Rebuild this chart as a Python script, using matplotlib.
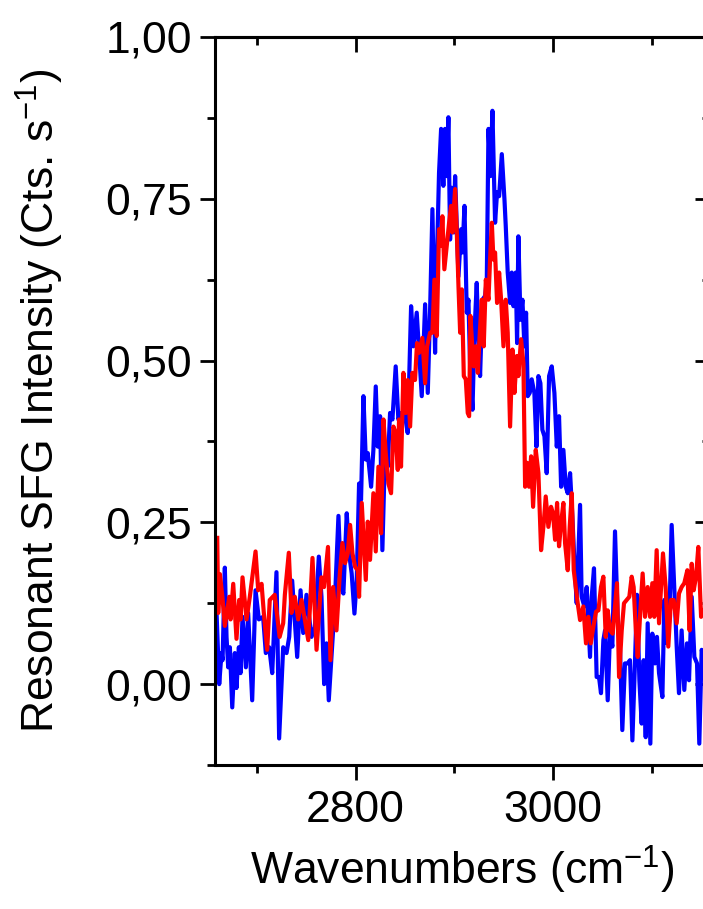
import matplotlib
matplotlib.use('Agg')
import matplotlib.pyplot as plt
from matplotlib.ticker import MultipleLocator, FuncFormatter

plt.rcParams['font.family'] = ['Liberation Sans', 'DejaVu Sans']
plt.rcParams['mathtext.fontset'] = 'custom'
plt.rcParams['mathtext.rm'] = 'Liberation Sans'
plt.rcParams['mathtext.default'] = 'regular'

# spectrum 1 (blue)
wn_blue = [2659.1, 2661.8, 2664.1, 2665.2, 2667.5, 2669.2, 2670.9, 2672.6, 2675.0, 2677.6,
           2679.3, 2681.7, 2683.4, 2685.4, 2688.8, 2691.1, 2695.2, 2698.6, 2702.0, 2706.3,
           2709.0, 2712.4, 2715.5, 2719.8, 2722.5, 2726.6, 2730.0, 2732.7, 2735.7, 2740.8,
           2744.2, 2746.9, 2750.2, 2755.3, 2758.7, 2762.7, 2765.4, 2768.1, 2770.5, 2772.8,
           2775.5, 2778.9, 2782.6, 2785.3, 2787.6, 2791.0, 2793.4, 2796.0, 2798.8, 2801.1,
           2803.5, 2805.5, 2807.9, 2810.3, 2812.3, 2815.7, 2818.0, 2820.4, 2822.4, 2824.8,
           2827.1, 2829.8, 2832.5, 2834.9, 2837.3, 2840.6, 2843.3, 2846.0, 2850.1, 2852.8,
           2856.2, 2858.5, 2861.9, 2864.3, 2867.0, 2870.4, 2873.1, 2875.4, 2877.8, 2880.5,
           2882.2, 2884.5, 2886.6, 2888.9, 2890.6, 2892.3, 2894.0, 2895.7, 2897.4, 2899.4,
           2900.8, 2902.5, 2904.2, 2906.9, 2908.2, 2910.3, 2912.6, 2914.3, 2916.0, 2918.4,
           2920.4, 2922.7, 2924.4, 2926.1, 2928.5, 2931.2, 2932.9, 2934.6, 2936.6, 2938.6,
           2941.3, 2943.3, 2945.4, 2948.1, 2950.8, 2952.1, 2954.1, 2956.5, 2958.2, 2959.9,
           2962.2, 2963.6, 2964.9, 2967.0, 2969.0, 2971.0, 2972.7, 2974.4, 2976.4, 2978.4,
           2981.1, 2983.2, 2985.2, 2987.2, 2989.2, 2991.3, 2993.6, 2996.0, 2998.7, 3001.4,
           3003.8, 3006.1, 3008.2, 3010.5, 3012.9, 3014.9, 3017.3, 3019.6, 3021.7, 3024.0,
           3027.4, 3029.0, 3031.8, 3034.1, 3037.5, 3039.2, 3041.5, 3044.2, 3046.6, 3048.6,
           3051.0, 3052.7, 3055.4, 3057.8, 3060.1, 3062.8, 3065.5, 3067.9, 3070.2, 3072.9,
           3075.6, 3078.0, 3080.4, 3083.1, 3085.1, 3087.5, 3089.8, 3091.8, 3093.9, 3095.9,
           3098.6, 3100.6, 3103.3, 3105.3, 3107.4, 3110.8, 3112.8, 3115.5, 3117.8, 3120.2,
           3122.9, 3125.3, 3127.6, 3130.3, 3133.0, 3135.7, 3137.8, 3140.5, 3143.2, 3145.9,
           3148.2, 3150.6, 3153.0]
int_blue = [0.110, 0.000, 0.048, 0.037, 0.180, 0.073, 0.026, 0.057, -0.036, 0.048,
            -0.006, 0.057, 0.017, 0.104, 0.026, 0.110, -0.025, 0.145, 0.100, 0.104,
            0.048, 0.057, 0.017, 0.173, -0.084, 0.057, 0.048, 0.073, 0.160, 0.042,
            0.145, 0.079, 0.138, 0.073, 0.088, 0.197, 0.135, 0.000, 0.063, -0.025,
            0.042, 0.125, 0.260, 0.151, 0.140, 0.264, 0.202, 0.171, 0.109, 0.161,
            0.310, 0.285, 0.445, 0.347, 0.357, 0.305, 0.362, 0.460, 0.367, 0.414,
            0.207, 0.362, 0.336, 0.419, 0.409, 0.491, 0.409, 0.419, 0.414, 0.388,
            0.584, 0.522, 0.574, 0.512, 0.445, 0.587, 0.450, 0.574, 0.734, 0.512,
            0.646, 0.790, 0.858, 0.770, 0.858, 0.785, 0.876, 0.687, 0.767, 0.698,
            0.785, 0.708, 0.630, 0.703, 0.667, 0.739, 0.574, 0.594, 0.491, 0.424,
            0.543, 0.620, 0.533, 0.476, 0.594, 0.600, 0.625, 0.858, 0.785, 0.886,
            0.713, 0.760, 0.754, 0.819, 0.749, 0.708, 0.636, 0.589, 0.636, 0.584,
            0.636, 0.527, 0.692, 0.563, 0.594, 0.522, 0.574, 0.445, 0.450, 0.471,
            0.450, 0.367, 0.476, 0.465, 0.393, 0.383, 0.326, 0.476, 0.491, 0.450,
            0.367, 0.414, 0.305, 0.362, 0.305, 0.295, 0.326, 0.259, 0.187, 0.125,
            0.277, 0.135, 0.120, 0.150, 0.042, 0.135, 0.179, 0.011, 0.011, -0.014,
            0.068, 0.083, -0.025, 0.083, 0.058, 0.236, 0.104, 0.053, -0.071, 0.032,
            0.032, 0.037, -0.087, 0.037, 0.138, 0.006, -0.061, 0.037, -0.082, 0.094,
            -0.092, 0.078, 0.032, 0.073, 0.017, -0.020, 0.130, 0.063, 0.099, 0.246,
            0.145, 0.058, -0.014, 0.083, -0.009, 0.063, 0.006, 0.135, 0.042, 0.032,
            -0.092, 0.053, 0.040]

# spectrum 2 (red)
wn_red = [2659.8, 2660.8, 2662.5, 2665.0, 2667.5, 2672.0, 2673.3, 2676.0, 2679.3, 2682.0,
          2683.4, 2685.4, 2689.5, 2692.8, 2698.6, 2701.3, 2704.7, 2707.0, 2710.4, 2713.0,
          2718.0, 2723.0, 2726.6, 2728.3, 2732.3, 2735.0, 2738.4, 2741.8, 2745.2, 2752.0,
          2756.3, 2760.4, 2765.4, 2768.0, 2772.0, 2774.5, 2777.2, 2780.6, 2784.0, 2786.6,
          2789.3, 2792.0, 2794.4, 2796.8, 2799.5, 2802.2, 2803.5, 2806.2, 2810.3, 2812.3,
          2814.6, 2818.0, 2820.4, 2823.1, 2825.8, 2828.2, 2830.5, 2833.2, 2835.9, 2838.3,
          2840.6, 2842.7, 2844.0, 2846.0, 2848.4, 2850.8, 2852.8, 2855.2, 2857.5, 2860.2,
          2862.2, 2864.3, 2867.6, 2870.4, 2872.4, 2875.4, 2877.8, 2879.8, 2882.2, 2884.5,
          2886.6, 2887.9, 2889.9, 2892.3, 2894.7, 2896.7, 2898.0, 2900.8, 2902.5, 2904.2,
          2905.9, 2907.6, 2909.6, 2911.6, 2913.6, 2915.0, 2916.3, 2918.4, 2919.7, 2921.7,
          2923.8, 2925.8, 2927.8, 2929.8, 2931.9, 2934.6, 2936.2, 2938.0, 2939.6, 2941.3,
          2943.3, 2945.4, 2947.4, 2949.8, 2952.1, 2954.1, 2956.5, 2958.9, 2960.9, 2963.3,
          2964.9, 2967.6, 2970.0, 2971.7, 2973.7, 2975.7, 2977.8, 2979.8, 2982.5, 2985.2,
          2987.9, 2990.6, 2992.6, 2995.3, 2998.0, 3000.0, 3002.1, 3004.1, 3006.1, 3008.2,
          3010.5, 3012.2, 3014.9, 3016.9, 3019.0, 3021.0, 3025.0, 3027.4, 3030.7, 3033.4,
          3035.8, 3038.2, 3040.9, 3043.6, 3046.0, 3048.6, 3051.0, 3053.4, 3055.4, 3057.8,
          3060.4, 3062.8, 3064.8, 3066.9, 3069.6, 3071.9, 3074.6, 3077.3, 3079.7, 3081.7,
          3083.7, 3085.8, 3088.5, 3090.8, 3093.2, 3095.9, 3098.3, 3100.6, 3102.6, 3105.0,
          3107.4, 3111.4, 3114.1, 3116.8, 3119.5, 3122.2, 3125.3, 3127.6, 3130.3, 3133.0,
          3136.1, 3138.4, 3140.5, 3142.5, 3144.9, 3147.2, 3150.0, 3152.0]
int_red = [0.226, 0.110, 0.170, 0.135, 0.090, 0.135, 0.100, 0.155, 0.070, 0.130,
           0.100, 0.165, 0.100, 0.135, 0.205, 0.145, 0.155, 0.110, 0.053, 0.130,
           0.138, 0.073, 0.094, 0.138, 0.203, 0.110, 0.135, 0.100, 0.130, 0.068,
           0.195, 0.053, 0.165, 0.150, 0.212, 0.037, 0.150, 0.083, 0.171, 0.218,
           0.187, 0.202, 0.246, 0.202, 0.181, 0.176, 0.135, 0.280, 0.161, 0.251,
           0.192, 0.295, 0.205, 0.336, 0.233, 0.409, 0.357, 0.310, 0.295, 0.398,
           0.388, 0.331, 0.409, 0.336, 0.481, 0.419, 0.470, 0.398, 0.481, 0.470,
           0.527, 0.512, 0.535, 0.465, 0.522, 0.543, 0.543, 0.625, 0.538, 0.703,
           0.677, 0.723, 0.641, 0.677, 0.713, 0.739, 0.698, 0.765, 0.698, 0.615,
           0.543, 0.610, 0.476, 0.471, 0.419, 0.414, 0.569, 0.517, 0.491, 0.522,
           0.481, 0.543, 0.594, 0.522, 0.625, 0.594, 0.656, 0.713, 0.656, 0.667,
           0.589, 0.636, 0.594, 0.522, 0.594, 0.543, 0.398, 0.517, 0.450, 0.507,
           0.476, 0.533, 0.496, 0.305, 0.342, 0.305, 0.352, 0.274, 0.362, 0.326,
           0.207, 0.249, 0.290, 0.243, 0.274, 0.264, 0.223, 0.280, 0.213, 0.249,
           0.280, 0.218, 0.176, 0.243, 0.295, 0.176, 0.125, 0.099, 0.120, 0.063,
           0.104, 0.063, 0.089, 0.112, 0.114, 0.150, 0.166, 0.073, 0.114, 0.083,
           0.078, 0.120, 0.156, 0.011, 0.083, 0.125, 0.130, 0.135, 0.166, 0.150,
           0.089, 0.042, 0.114, 0.171, 0.104, 0.150, 0.104, 0.156, 0.104, 0.207,
           0.094, 0.202, 0.150, 0.058, 0.130, 0.130, 0.094, 0.140, 0.150, 0.156,
           0.176, 0.083, 0.186, 0.145, 0.166, 0.212, 0.104, 0.114]

fig = plt.figure(figsize=(7.03, 9.09), dpi=100)
ax = fig.add_axes([0.3065, 0.1584, 0.7034, 0.8009])

ax.plot(wn_blue, int_blue, color='#0000ff', lw=3.0)
ax.plot(wn_red, int_red, color='#ff0000', lw=3.0)

ax.set_xlim(2658, 3159)
ax.set_ylim(-0.125, 1.0)

ax.xaxis.set_major_locator(MultipleLocator(200))
ax.xaxis.set_minor_locator(MultipleLocator(100))
ax.yaxis.set_major_locator(MultipleLocator(0.25))
ax.yaxis.set_minor_locator(MultipleLocator(0.125))
ax.yaxis.set_major_formatter(FuncFormatter(lambda v, pos: f'{v:.2f}'.replace('.', ',')))

for s in ax.spines.values():
    s.set_linewidth(2.2)

ax.tick_params(axis='both', which='major', length=10.8, width=2.0, labelsize=32)
ax.tick_params(axis='both', which='minor', length=5.8, width=2.0)
ax.tick_params(axis='x', which='both', direction='out', top=False, pad=7)
ax.tick_params(axis='y', which='both', direction='out', right=False, pad=6)

# mirrored inward ticks on the top and right edges
ax_top = ax.secondary_xaxis('top')
ax_top.xaxis.set_major_locator(MultipleLocator(200))
ax_top.xaxis.set_minor_locator(MultipleLocator(100))
ax_top.tick_params(which='both', direction='in', labeltop=False, width=2.0)
ax_top.tick_params(which='major', length=10.8)
ax_top.tick_params(which='minor', length=5.8)
ax_top.spines['top'].set_linewidth(2.2)

ax_right = ax.secondary_yaxis('right')
ax_right.yaxis.set_major_locator(MultipleLocator(0.25))
ax_right.yaxis.set_minor_locator(MultipleLocator(0.125))
ax_right.tick_params(which='both', direction='in', labelright=False, width=2.0)
ax_right.tick_params(which='major', length=10.8)
ax_right.tick_params(which='minor', length=5.8)
ax_right.spines['right'].set_linewidth(2.2)

ax.set_xlabel('Wavenumbers (cm$^{-1}$)', fontsize=32)
ax.set_ylabel('Resonant SFG Intensity (Cts. s$^{-1}$)', fontsize=32)
ax.xaxis.set_label_coords(0.5, -0.108)
ax.yaxis.set_label_coords(-0.302, 0.5)

fig.savefig('out.png', dpi=100)
